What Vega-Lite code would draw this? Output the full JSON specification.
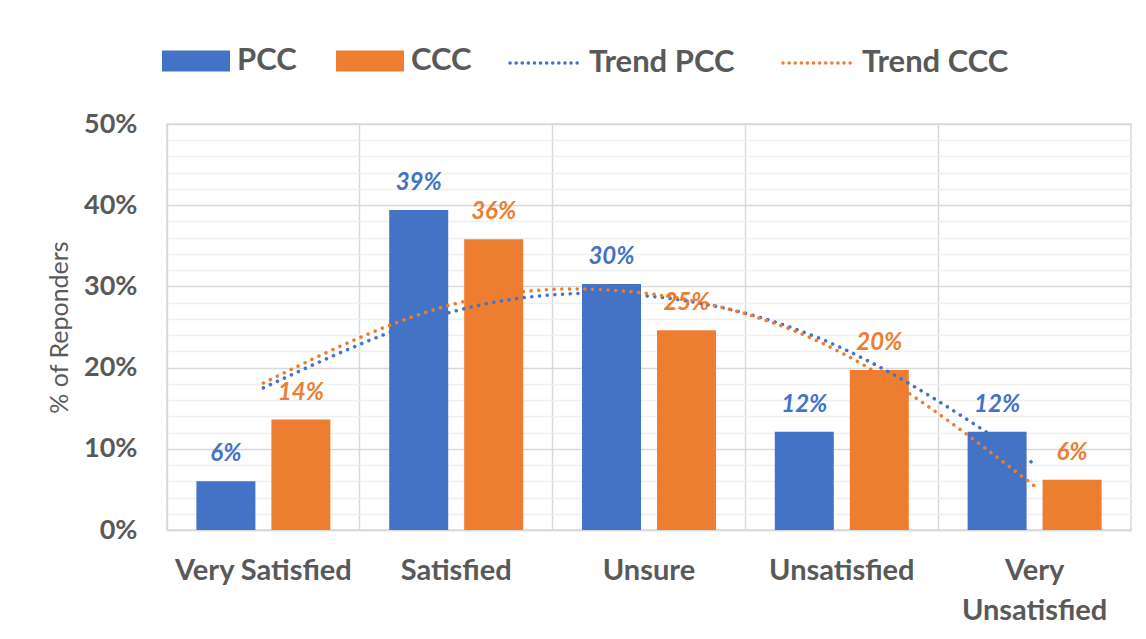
{
  "$schema": "https://vega.github.io/schema/vega-lite/v6.json",
  "width": 964,
  "height": 406,
  "autosize": {"type": "none"},
  "padding": {"left": 167, "top": 124, "right": 15, "bottom": 109},
  "background": "white",
  "config": {"view": {"stroke": "#D9D9D9", "strokeWidth": 1.5}, "font": "Lato"},
  "datasets": {
    "bars": [
      {"category": "Very Satisfied", "series": "PCC", "value": 0.060},
      {"category": "Very Satisfied", "series": "CCC", "value": 0.136},
      {"category": "Satisfied", "series": "PCC", "value": 0.394},
      {"category": "Satisfied", "series": "CCC", "value": 0.358},
      {"category": "Unsure", "series": "PCC", "value": 0.303},
      {"category": "Unsure", "series": "CCC", "value": 0.246},
      {"category": "Unsatisfied", "series": "PCC", "value": 0.121},
      {"category": "Unsatisfied", "series": "CCC", "value": 0.197},
      {"category": "Very Unsatisfied", "series": "PCC", "value": 0.121},
      {"category": "Very Unsatisfied", "series": "CCC", "value": 0.062}
    ],
    "trend": [
      {"category": "Very Satisfied", "trend": "Trend PCC", "value": 0.175},
      {"category": "Satisfied", "trend": "Trend PCC", "value": 0.270},
      {"category": "Unsure", "trend": "Trend PCC", "value": 0.288},
      {"category": "Unsatisfied", "trend": "Trend PCC", "value": 0.224},
      {"category": "Very Unsatisfied", "trend": "Trend PCC", "value": 0.081},
      {"category": "Very Satisfied", "trend": "Trend CCC", "value": 0.181},
      {"category": "Satisfied", "trend": "Trend CCC", "value": 0.279},
      {"category": "Unsure", "trend": "Trend CCC", "value": 0.291},
      {"category": "Unsatisfied", "trend": "Trend CCC", "value": 0.218},
      {"category": "Very Unsatisfied", "trend": "Trend CCC", "value": 0.054}
    ]
  },
  "layer": [
    {
      "data": {"name": "bars"},
      "mark": {"type": "bar"},
      "encoding": {
        "x": {
          "field": "category", "type": "nominal",
          "sort": ["Very Satisfied", "Satisfied", "Unsure", "Unsatisfied", "Very Unsatisfied"],
          "scale": {"paddingInner": 0, "paddingOuter": 0},
          "axis": {
            "title": null, "domain": true, "domainColor": "#D9D9D9", "domainWidth": 1.5,
            "ticks": false, "grid": false, "labelAngle": 0,
            "labelFont": "Lato", "labelFontSize": 29, "labelFontWeight": "bold", "labelColor": "#595959",
            "labelPadding": 26, "labelLimit": 0, "labelLineHeight": 40,
            "labelExpr": "datum.label == 'Very Unsatisfied' ? ['Very', 'Unsatisfied'] : datum.label"
          }
        },
        "xOffset": {"field": "series", "type": "nominal", "sort": ["PCC", "CCC"], "scale": {"paddingInner": 0.2133, "paddingOuter": 0.392}},
        "y": {
          "field": "value", "type": "quantitative",
          "scale": {"domain": [0, 0.5]},
          "axis": {
            "values": [0, 0.1, 0.2, 0.3, 0.4, 0.5], "format": ".0%",
            "grid": true, "gridColor": "#D9D9D9", "gridWidth": 1.5,
            "domain": false, "ticks": false,
            "labelFont": "Lato", "labelFontSize": 27, "labelFontWeight": "bold", "labelColor": "#595959", "labelPadding": 30,
            "title": "% of Reponders", "titleFont": "Lato", "titleFontSize": 25, "titleFontWeight": "normal", "titleColor": "#595959", "titlePadding": 11
          }
        },
        "color": {
          "field": "series", "type": "nominal", "sort": ["PCC", "CCC"],
          "scale": {"domain": ["PCC", "CCC"], "range": ["#4472C4", "#ED7D31"]},
          "legend": {
            "orient": "none", "legendX": -5, "legendY": -97, "direction": "horizontal", "title": null,
            "symbolType": "M-1,-0.31H1V0.31H-1Z", "symbolSize": 4624, "symbolStrokeWidth": 0, "symbolOpacity": 1,
            "labelFont": "Lato", "labelFontSize": 31, "labelFontWeight": "bold", "labelColor": "#595959",
            "labelOffset": 7, "columnPadding": 39, "padding": 0
          }
        }
      }
    },
    {
      "data": {"name": "bars"},
      "mark": {"type": "text", "font": "Lato", "fontSize": 24, "fontStyle": "italic", "fontWeight": "bold", "dy": -27, "baseline": "middle"},
      "encoding": {
        "x": {
          "field": "category", "type": "nominal",
          "sort": ["Very Satisfied", "Satisfied", "Unsure", "Unsatisfied", "Very Unsatisfied"],
          "axis": {"orient": "top", "bandPosition": 0, "grid": true, "gridColor": "#D9D9D9", "gridWidth": 1.5, "labels": false, "ticks": false, "domain": false, "title": null}
        },
        "xOffset": {"field": "series", "type": "nominal", "sort": ["PCC", "CCC"]},
        "y": {
          "field": "value", "type": "quantitative",
          "axis": {
            "orient": "right",
            "values": [0.02, 0.04, 0.06, 0.08, 0.12, 0.14, 0.16, 0.18, 0.22, 0.24, 0.26, 0.28, 0.32, 0.34, 0.36, 0.38, 0.42, 0.44, 0.46, 0.48],
            "grid": true, "gridColor": "#F0F0F0", "gridWidth": 1.5, "labels": false, "ticks": false, "domain": false, "title": null
          }
        },
        "text": {"field": "value", "type": "quantitative", "format": ".0%"},
        "fill": {"field": "series", "type": "nominal", "scale": {"domain": ["PCC", "CCC"], "range": ["#4472C4", "#ED7D31"]}, "legend": null}
      }
    },
    {
      "data": {"name": "trend"},
      "mark": {"type": "line", "strokeWidth": 3.5, "strokeDash": [0.1, 7.6], "strokeCap": "round", "interpolate": "natural"},
      "encoding": {
        "x": {"field": "category", "type": "nominal", "sort": ["Very Satisfied", "Satisfied", "Unsure", "Unsatisfied", "Very Unsatisfied"], "axis": null},
        "y": {"field": "value", "type": "quantitative", "axis": null},
        "stroke": {
          "field": "trend", "type": "nominal", "sort": ["Trend PCC", "Trend CCC"],
          "scale": {"domain": ["Trend PCC", "Trend CCC"], "range": ["#4472C4", "#ED7D31"]},
          "legend": {
            "orient": "none", "legendX": 341, "legendY": -98, "direction": "horizontal", "title": null,
            "symbolType": "M-1,0H1", "symbolSize": 4900, "symbolStrokeWidth": 3.5, "symbolDash": [0.1, 6],
            "labelFont": "Lato", "labelFontSize": 31, "labelFontWeight": "bold", "labelColor": "#595959",
            "labelOffset": 7, "columnPadding": 41, "padding": 0,
            "encode": {"symbols": {"update": {"strokeCap": {"value": "round"}}}}
          }
        }
      }
    }
  ],
  "resolve": {"axis": {"x": "independent", "y": "independent"}}
}
